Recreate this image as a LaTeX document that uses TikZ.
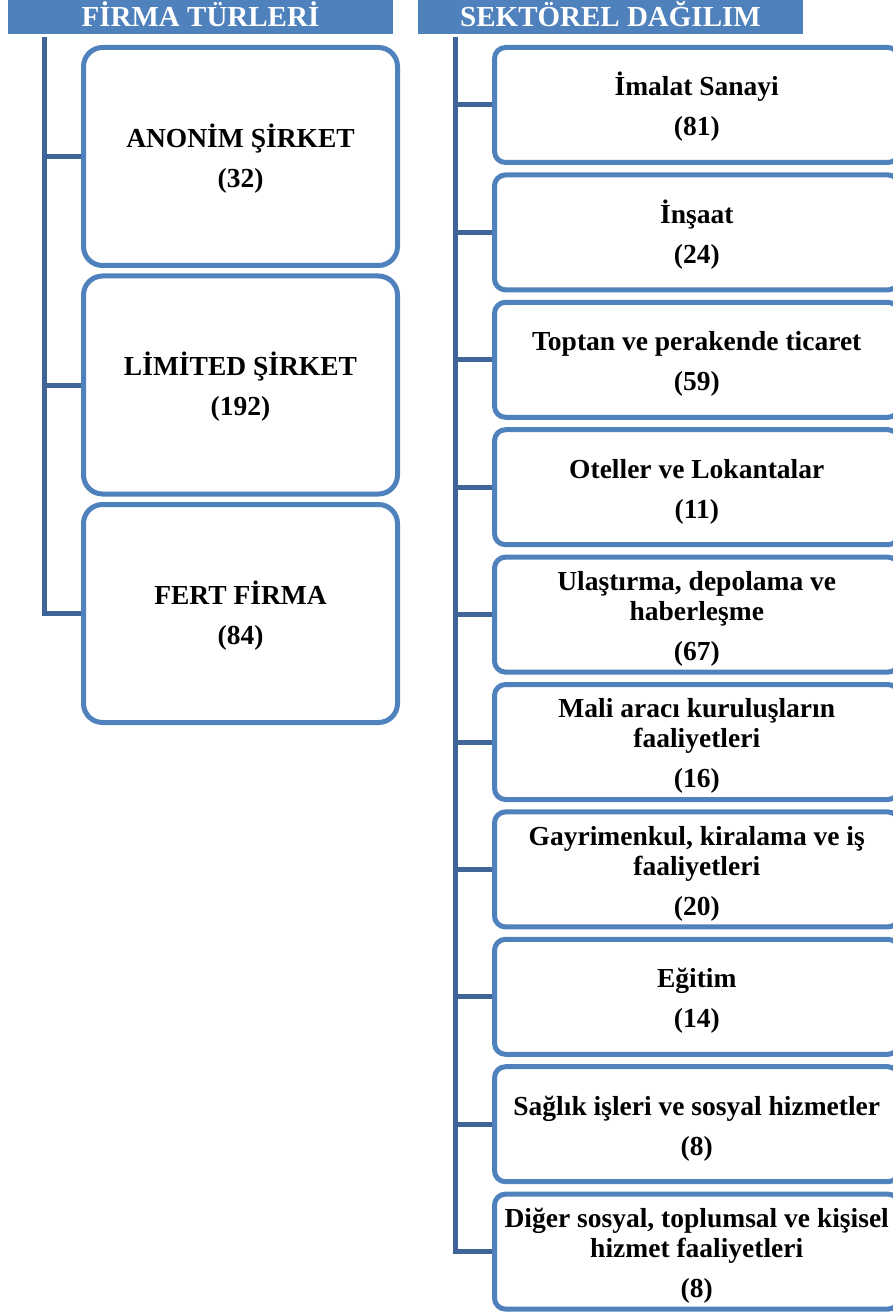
\documentclass[tikz,border=0pt]{standalone}
\usepackage{fontspec}
\setmainfont{Liberation Serif}
\definecolor{boxblue}{RGB}{79,129,189}
\definecolor{connblue}{RGB}{62,100,152}
\newcommand\fst{\rule{0pt}{27.5pt}}
\tikzset{
  header/.style={fill=boxblue, text=white, minimum width=385pt, minimum height=34pt,
    inner sep=0pt, text height=19pt, text depth=0pt,
    font=\fontsize{29}{30}\selectfont\bfseries},
  boxbase/.style={draw=boxblue, line width=5pt, fill=white, align=center, inner sep=0pt,
    font=\fontsize{27.5}{30}\selectfont\bfseries},
  lbox/.style={boxbase, rounded corners=19pt, minimum width=314pt, minimum height=218pt},
  rbox/.style={boxbase, rounded corners=11pt, minimum width=404.5pt, minimum height=115pt},
  conn/.style={draw=connblue, line width=5pt, line join=miter}
}
\begin{document}
\begin{tikzpicture}[x=1pt,y=-1pt]
\useasboundingbox (0,0) rectangle (893,1313);
\clip (0,0) rectangle (893,1313);
% headers
\node[header] (h1) at (200.5,17) {FİRMA TÜRLERİ};
\node[header] (h2) at (610.5,17) {SEKTÖREL DAĞILIM};
% trunk start points
\coordinate (l0) at (44,37);
\coordinate (r0) at (455,37);
% left boxes
\node[lbox] (a1) at (240.5,156.5) {\fst ANONİM ŞİRKET\\[10pt](32)};
\node[lbox] (a2) at (240.5,385) {\fst LİMİTED ŞİRKET\\[10pt](192)};
\node[lbox] (a3) at (240.5,613.5) {\fst FERT FİRMA\\[10pt](84)};
% right boxes
\node[rbox] (b1) at (696.75,105) {\fst İmalat Sanayi\\[10pt](81)};
\node[rbox] (b2) at (696.75,232.4) {\fst İnşaat\\[10pt](24)};
\node[rbox] (b3) at (696.75,359.8) {\fst Toptan ve perakende ticaret\\[10pt](59)};
\node[rbox] (b4) at (696.75,487.2) {\fst Oteller ve Lokantalar\\[10pt](11)};
\node[rbox] (b5) at (696.75,614.6) {\fst Ulaştırma, depolama ve\\haberleşme\\[10pt](67)};
\node[rbox] (b6) at (696.75,742) {\fst Mali aracı kuruluşların\\faaliyetleri\\[10pt](16)};
\node[rbox] (b7) at (696.75,869.4) {\fst Gayrimenkul, kiralama ve iş\\faaliyetleri\\[10pt](20)};
\node[rbox] (b8) at (696.75,996.8) {\fst Eğitim\\[10pt](14)};
\node[rbox] (b9) at (696.75,1124.2) {\fst Sağlık işleri ve sosyal hizmetler\\[10pt](8)};
\node[rbox] (b10) at (696.75,1251.6) {\fst Diğer sosyal, toplumsal ve kişisel\\hizmet faaliyetleri\\[10pt](8)};
% left connectors
\draw[conn] (l0) |- (a3.west);
\foreach \n in {a1,a2} \draw[conn] (l0 |- \n.west) -- (\n.west);
% right connectors
\draw[conn] (r0) |- (b10.west);
\foreach \n in {b1,b2,b3,b4,b5,b6,b7,b8,b9} \draw[conn] (r0 |- \n.west) -- (\n.west);
\end{tikzpicture}
\end{document}
